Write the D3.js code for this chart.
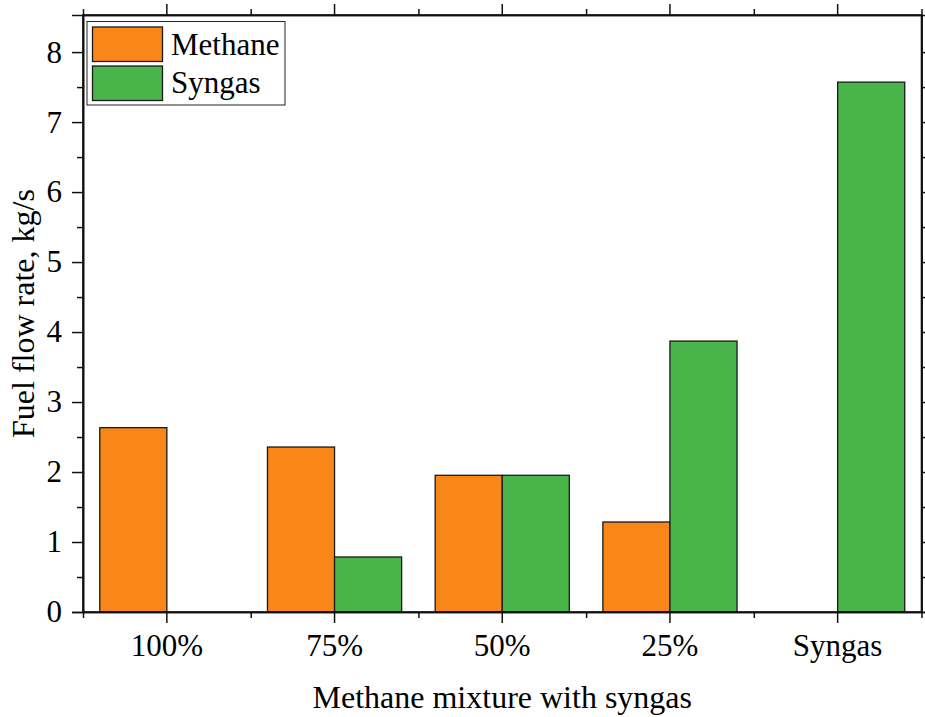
<!DOCTYPE html>
<html>
<head>
<meta charset="utf-8">
<script src="https://cdn.jsdelivr.net/npm/d3@7"></script>
<style>
  html, body { margin: 0; padding: 0; background: #fff; }
  svg { display: block; font-family: "Liberation Serif", "Times New Roman", serif; }
</style>
</head>
<body>
<svg id="chart" width="925" height="717"></svg>
<script>
// Fuel flow rate by methane / syngas blend
const categories = ["100%", "75%", "50%", "25%", "Syngas"];
const seriesNames = ["Methane", "Syngas"];
const methaneFlow = [2.634, 2.357, 1.953, 1.286, 0];
const syngasFlow = [0, 0.786, 1.953, 3.871, 7.571];
const seriesColors = ["#F98618", "#49B44A"];
const yTicks = [0, 1, 2, 3, 4, 5, 6, 7, 8];
const xTitle = "Methane mixture with syngas";
const yTitle = "Fuel flow rate, kg/s";

(function () {
  const svg = d3.select("#chart");
  const margin = { left: 83, right: 3.5, top: 15, bottom: 105 };
  const W = 925, H = 717;
  const x0 = margin.left, x1 = W - margin.right, y0 = H - margin.bottom, y1 = margin.top;

  const x = d3.scaleBand().domain(categories).range([x0, x1]).paddingInner(0).paddingOuter(0);
  // two bars per group, 80% of the group width, no gap between them
  const xs = d3.scaleBand().domain(seriesNames).range([0, x.bandwidth()]).paddingInner(0).paddingOuter(0.25);
  const y = d3.scaleLinear().domain([0, 8.53]).range([y0, y1]);

  const series = [methaneFlow, syngasFlow];

  // bars
  const g = svg.append("g");
  series.forEach((vals, si) => {
    g.selectAll(null)
      .data(categories.map((c, i) => ({ c, v: vals[i] })).filter(d => d.v > 0))
      .enter().append("rect")
      .attr("x", d => x(d.c) + xs(seriesNames[si]))
      .attr("width", xs.bandwidth())
      .attr("y", d => y(d.v))
      .attr("height", d => y(0) - y(d.v))
      .attr("fill", seriesColors[si])
      .attr("stroke", "#1a1a1a")
      .attr("stroke-width", 1.3);
  });

  const minorY = d3.range(0.5, 8.5, 1);
  const boundaries = categories.slice(1).map(c => x(c));
  const xc = d3.scaleLinear().domain([x0, x1]).range([x0, x1]);

  // left axis
  const leftAxis = svg.append("g").attr("transform", `translate(${x0},0)`)
    .call(d3.axisLeft(y).tickValues(yTicks).tickFormat(d3.format("d")).tickSizeOuter(0).tickSize(11).tickPadding(10));
  leftAxis.append("g").call(d3.axisLeft(y).tickValues(minorY).tickFormat("").tickSize(6).tickSizeOuter(0));
  // right axis
  const rightAxis = svg.append("g").attr("transform", `translate(${x1},0)`)
    .call(d3.axisRight(y).tickValues(yTicks).tickFormat("").tickSizeOuter(0).tickSize(11));
  rightAxis.append("g").call(d3.axisRight(y).tickValues(minorY).tickFormat("").tickSize(6).tickSizeOuter(0));

  // bottom axis: major ticks at group centres, minor at group boundaries
  const bottomAxis = svg.append("g").attr("transform", `translate(0,${y0})`)
    .call(d3.axisBottom(x).tickSize(11).tickSizeOuter(0).tickPadding(11));
  bottomAxis.append("g").call(d3.axisBottom(xc).tickValues(boundaries.concat([x0, x1])).tickFormat("").tickSize(6).tickSizeOuter(0));
  // top axis
  const topAxis = svg.append("g").attr("transform", `translate(0,${y1})`)
    .call(d3.axisTop(x).tickFormat("").tickSize(11).tickSizeOuter(0));
  topAxis.append("g").call(d3.axisTop(xc).tickValues(boundaries.concat([x0, x1])).tickFormat("").tickSize(6).tickSizeOuter(0));

  svg.selectAll(".domain").attr("stroke", "#111").attr("stroke-width", 1.6);
  svg.selectAll(".tick line").attr("stroke", "#111").attr("stroke-width", 1.5);
  svg.selectAll("g[font-size]").attr("font-size", null).attr("font-family", null);
  svg.selectAll(".tick text").attr("font-family", "Liberation Serif").attr("font-size", 31).attr("fill", "#000");

  // frame
  svg.append("rect").attr("x", x0).attr("y", y1).attr("width", x1 - x0).attr("height", y0 - y1)
    .attr("fill", "none").attr("stroke", "#111").attr("stroke-width", 1.6);

  // titles
  svg.append("text").attr("x", (x0 + x1) / 2).attr("y", 708).attr("text-anchor", "middle")
    .attr("font-size", 32).text(xTitle);
  svg.append("text").attr("transform", `translate(34,${(y0 + y1) / 2}) rotate(-90)`)
    .attr("text-anchor", "middle").attr("font-size", 32).text(yTitle);

  // legend
  const lg = svg.append("g").attr("transform", "translate(87,21.5)");
  lg.append("rect").attr("width", 198).attr("height", 83.5).attr("fill", "#fff").attr("stroke", "#222").attr("stroke-width", 1);
  seriesNames.forEach((n, i) => {
    lg.append("rect").attr("x", 5.5).attr("y", 5.5 + i * 39).attr("width", 70).attr("height", 34.5)
      .attr("fill", seriesColors[i]).attr("stroke", "#1a1a1a").attr("stroke-width", 1.3);
    lg.append("text").attr("x", 84).attr("y", 33.5 + i * 37.5).attr("font-size", 31).text(n);
  });
})();
</script>
</body>
</html>
